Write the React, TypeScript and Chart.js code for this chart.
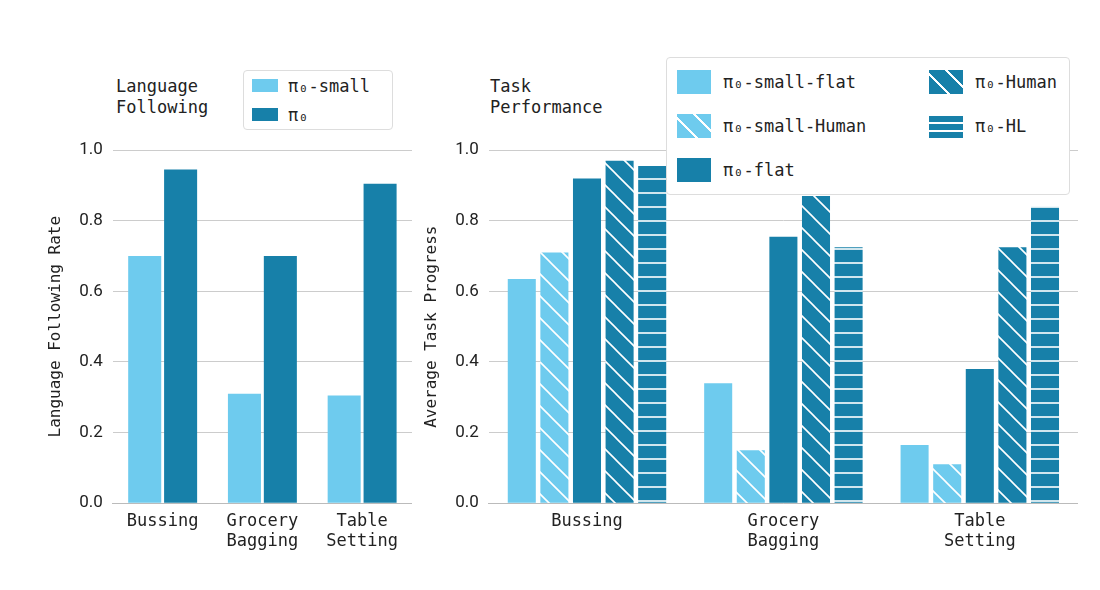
import React, { useEffect, useRef } from "react";
import Chart from "chart.js/auto";

const categories = [["Bussing"], ["Grocery", "Bagging"], ["Table", "Setting"]];
const leftSmall = [0.70, 0.31, 0.305];
const leftPi0 = [0.945, 0.70, 0.905];
const smallFlat = [0.635, 0.34, 0.165];
const smallHuman = [0.71, 0.15, 0.11];
const pi0Flat = [0.92, 0.755, 0.38];
const pi0Human = [0.97, 0.87, 0.725];
const pi0HL = [0.955, 0.725, 0.84];
const yTicks = [0, 0.2, 0.4, 0.6, 0.8, 1.0];

const LIGHT = "#6ECBEE";
const DARK = "#1780A9";
const MONO = "'DejaVu Sans Mono', monospace";

function pattern(color: string, kind: "diag" | "horiz") {
  const c = document.createElement("canvas");
  const s = kind === "diag" ? 22 : 14;
  c.width = s; c.height = s;
  const g = c.getContext("2d")!;
  g.fillStyle = color; g.fillRect(0, 0, s, s);
  g.strokeStyle = "#fff"; g.lineWidth = 1.6;
  g.beginPath();
  if (kind === "diag") {
    g.moveTo(-2, -2); g.lineTo(s + 2, s + 2);
    g.moveTo(-2, s - 2); g.lineTo(2, s + 2);
    g.moveTo(s - 2, -2); g.lineTo(s + 2, 2);
  } else {
    g.moveTo(0, s / 2); g.lineTo(s, s / 2);
  }
  g.stroke();
  return g.createPattern(c, "repeat")!;
}

function baseOptions(yTitle: string, catPct: number, barPct: number, padLeft: number): any {
  return {
    animation: false,
    responsive: false,
    maintainAspectRatio: false,
    layout: { padding: { left: padLeft, right: 0, top: 0, bottom: 0 } },
    plugins: { legend: { display: false }, tooltip: { enabled: false } },
    datasets: { bar: { categoryPercentage: catPct, barPercentage: barPct } },
    scales: {
      x: {
        grid: { display: false, drawTicks: false },
        border: { color: "#bbb" },
        ticks: { color: "#222", font: { family: MONO, size: 17 }, padding: 8 },
      },
      y: {
        min: 0, max: 1,
        afterBuildTicks: (ax: any) => { ax.ticks = yTicks.map((v) => ({ value: v })); },
        grid: { color: "#ccc", drawTicks: false },
        border: { display: false },
        ticks: { color: "#222", font: { family: "Roboto", size: 17 }, padding: 10, callback: (v: number) => v.toFixed(1) },
        title: { display: true, text: yTitle, color: "#222", font: { family: MONO, size: 16 } },
      },
    },
  };
}

export default function App() {
  const l = useRef<HTMLCanvasElement>(null);
  const r = useRef<HTMLCanvasElement>(null);
  useEffect(() => {
    const c1 = new Chart(l.current!, {
      type: "bar",
      data: {
        labels: categories,
        datasets: [
          { label: "π₀-small", data: leftSmall, backgroundColor: LIGHT },
          { label: "π₀", data: leftPi0, backgroundColor: DARK },
        ],
      },
      options: baseOptions("Language Following Rate", 0.72, 0.92, 0),
    });
    const c2 = new Chart(r.current!, {
      type: "bar",
      data: {
        labels: categories,
        datasets: [
          { label: "π₀-small-flat", data: smallFlat, backgroundColor: LIGHT },
          { label: "π₀-small-Human", data: smallHuman, backgroundColor: pattern(LIGHT, "diag") },
          { label: "π₀-flat", data: pi0Flat, backgroundColor: DARK },
          { label: "π₀-Human", data: pi0Human, backgroundColor: pattern(DARK, "diag") },
          { label: "π₀-HL", data: pi0HL, backgroundColor: pattern(DARK, "horiz") },
        ],
      },
      options: baseOptions("Average Task Progress", 0.83, 0.86, 0),
    });
    return () => { c1.destroy(); c2.destroy(); };
  }, []);

  const sw = (bg: string) => (
    <span style={{ display: "inline-block", width: 34, height: 24, background: bg, marginRight: 12, verticalAlign: "middle" }} />
  );
  const diag = (c: string) => `repeating-linear-gradient(45deg, ${c} 0 13px, #fff 13px 15px)`;
  const horiz = (c: string) => `repeating-linear-gradient(0deg, ${c} 0 6px, #fff 6px 8px)`;
  const item = (bg: string, text: string) => (
    <div style={{ height: 44, display: "flex", alignItems: "center" }}>{sw(bg)}<span>{text}</span></div>
  );

  return (
    <div style={{ position: "fixed", left: 0, top: 0, width: 1100, height: 590, background: "#fff", fontFamily: MONO, color: "#222" }}>
      <canvas ref={l} width={370} height={430} style={{ position: "absolute", left: 42, top: 130, width: 370, height: 430 }} />
      <canvas ref={r} width={660} height={430} style={{ position: "absolute", left: 418, top: 130, width: 660, height: 430 }} />
      <div style={{ position: "absolute", left: 116, top: 76, fontSize: 17, lineHeight: "21px" }}>Language<br />Following</div>
      <div style={{ position: "absolute", left: 490, top: 76, fontSize: 17, lineHeight: "21px" }}>Task<br />Performance</div>
      <div style={{ position: "absolute", left: 243, top: 70, width: 150, height: 60, border: "1px solid #ddd", borderRadius: 4, background: "#fff", fontSize: 17, padding: "0 0 0 8px", boxSizing: "border-box" }}>
        <div style={{ height: 29, display: "flex", alignItems: "center" }}>
          <span style={{ display: "inline-block", width: 26, height: 13, background: LIGHT, marginRight: 10 }} />π₀-small
        </div>
        <div style={{ height: 29, display: "flex", alignItems: "center" }}>
          <span style={{ display: "inline-block", width: 26, height: 13, background: DARK, marginRight: 10 }} />π₀
        </div>
      </div>
      <div style={{ position: "absolute", left: 666, top: 57, width: 404, height: 138, border: "1px solid #ddd", borderRadius: 4, background: "#fff", fontSize: 17, padding: "2px 0 0 10px", boxSizing: "border-box", display: "flex" }}>
        <div style={{ width: 252 }}>
          {item(LIGHT, "π₀-small-flat")}
          {item(diag(LIGHT), "π₀-small-Human")}
          {item(DARK, "π₀-flat")}
        </div>
        <div>
          {item(diag(DARK), "π₀-Human")}
          {item(horiz(DARK), "π₀-HL")}
        </div>
      </div>
    </div>
  );
}
